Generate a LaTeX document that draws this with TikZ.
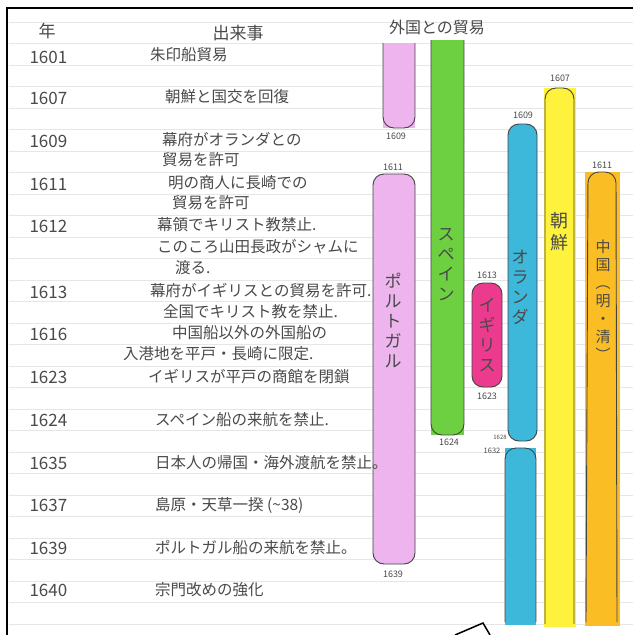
\documentclass[tikz,border=0pt]{standalone}
\usepackage{fontspec}
\setmainfont{Noto Sans CJK JP}
\usetikzlibrary{positioning}

\definecolor{pencil}{HTML}{4A4A4A}
\definecolor{ruleline}{HTML}{E6E6E6}
\definecolor{lilac}{HTML}{EDB4EE}
\definecolor{leaf}{HTML}{6DD040}
\definecolor{rose}{HTML}{EC3B8E}
\definecolor{sky}{HTML}{3DB8DB}
\definecolor{lemon}{HTML}{FFF23C}
\definecolor{amber}{HTML}{FBBD24}

\begin{document}
\begin{tikzpicture}[x=1pt,y=-1pt,
    yr/.style={anchor=west,text=pencil,font=\fontsize{17}{19}\selectfont},
    evt/.style={anchor=west,text=pencil,inner sep=0pt,font=\fontsize{15.5}{17}\selectfont},
    barlbl/.style={text=pencil,align=center,inner sep=0pt,font=\fontsize{17}{20}\selectfont},
    tick/.style={text=pencil,inner sep=0pt,font=\fontsize{9}{10}\selectfont},
    edge/.style={draw=pencil!90!black,line width=0.9pt,rounded corners=11pt}]
\useasboundingbox (0,0) rectangle (633,635);
\fill[white] (0,0) rectangle (633,635);

% ruled lines of the notebook
\foreach \k in {0,...,28}
  \draw[ruleline,line width=0.6pt] (9,{22+21.5*\k}) -- (633,{22+21.5*\k});

% frame
\draw[line width=2.5pt] (7,635) -- (7,8) -- (633,8);

% headings
\node[text=pencil,font=\fontsize{17}{19}\selectfont] (hyear) at (47,31) {年};
\node[text=pencil,font=\fontsize{17}{19}\selectfont] (hevent) at (238,33) {出来事};
\node[text=pencil,font=\fontsize{16}{18}\selectfont] (htrade) at (437,27) {外国との貿易};

% Portugal (until 1609, again 1611-1639)
\fill[lilac] (383,43) rectangle (415,128);
\draw[edge] (383,43) -- (383,128) -- (415,128) -- (415,43);
\node[tick] (p1609) at (396,136) {1609};
\filldraw[fill=lilac,edge] (373,174) rectangle (415,564);
\node[tick] (p1611) at (393,167) {1611};
\node[tick] (p1639) at (393,574) {1639};
\node[barlbl] (portugal) at (393,320) {ポ\\ル\\ト\\ガ\\ル};

% Spain
\fill[leaf] (431,40) rectangle (464,435);
\draw[edge] (431,40) -- (431,435) -- (464,435) -- (464,40);
\node[tick] (s1624) at (449,442) {1624};
\node[barlbl] (spain) at (446,265) {ス\\ペ\\イ\\ン};

% England
\filldraw[fill=rose,edge] (472,283) rectangle (502,387);
\node[tick] (g1613) at (487,275) {1613};
\node[tick] (g1623) at (487,396) {1623};
\node[barlbl] (england) at (487,335) {イ\\ギ\\リ\\ス};

% Netherlands
\filldraw[fill=sky,edge] (508,124) rectangle (537,441);
\fill[sky] (505,448) rectangle (536,625);
\draw[edge] (505,622) -- (505,448) -- (536,448) -- (536,622);
\node[tick] (n1609) at (523,115) {1609};
\node[tick,font=\fontsize{6}{7}\selectfont] (n1628) at (500,437) {1628};
\node[tick,font=\fontsize{7.5}{8}\selectfont] (n1632) at (492,451) {1632};
\node[barlbl] (holland) at (520,287) {オ\\ラ\\ン\\ダ};

% Korea
\fill[lemon] (544,88) rectangle (576,627);
\draw[edge] (545,624) -- (545,88) -- (574,88) -- (574,624);
\node[tick] (k1607) at (560,78) {1607};
\node[barlbl,font=\fontsize{18}{22}\selectfont] (korea) at (559,232) {朝\\鮮};

% China
\fill[amber] (585,172) rectangle (620,626);
\draw[edge] (586,622) -- (588,172) -- (616,172) -- (617,622);
\node[tick] (c1611) at (602,165) {1611};
\node[barlbl,font=\fontsize{15}{18}\selectfont] (china) at (603,300) {中\\国\\︵\\明\\・\\清\\︶};

% years
\node[yr] (y1601) at (26,57) {1601};
\node[yr] (y1607) at (26,98) {1607};
\node[yr] (y1609) at (26,141) {1609};
\node[yr] (y1611) at (26,184) {1611};
\node[yr] (y1612) at (26,226) {1612};
\node[yr] (y1613) at (26,292) {1613};
\node[yr] (y1616) at (26,334) {1616};
\node[yr] (y1623) at (26,377) {1623};
\node[yr] (y1624) at (26,420) {1624};
\node[yr] (y1635) at (26,463) {1635};
\node[yr] (y1637) at (26,505) {1637};
\node[yr] (y1639) at (26,548) {1639};
\node[yr] (y1640) at (26,590) {1640};

% events
\node[evt] (e1601) at (150,55) {朱印船貿易};
\node[evt] (e1607) at (165,97) {朝鮮と国交を回復};
\node[evt] (e1609a) at (162,140) {幕府がオランダとの};
\node[evt] (e1609b) at (162,160) {貿易を許可};
\node[evt] (e1611a) at (168,183) {明の商人に長崎での};
\node[evt] (e1611b) at (172,203) {貿易を許可};
\node[evt] (e1612a) at (157,225) {幕領でキリスト教禁止.};
\node[evt] (e1612b) at (157,247) {このころ山田長政がシャムに};
\node[evt] (e1612c) at (175,268) {渡る.};
\node[evt] (e1613a) at (150,291) {幕府がイギリスとの貿易を許可.};
\node[evt] (e1613b) at (163,312) {全国でキリスト教を禁止.};
\node[evt] (e1616a) at (172,333) {中国船以外の外国船の};
\node[evt] (e1616b) at (123,354) {入港地を平戸・長崎に限定.};
\node[evt] (e1623) at (148,377) {イギリスが平戸の商館を閉鎖};
\node[evt] (e1624) at (155,420) {スペイン船の来航を禁止.};
\node[evt] (e1635) at (155,463) {日本人の帰国・海外渡航を禁止。};
\node[evt] (e1637) at (155,505) {島原・天草一揆 (\textasciitilde 38)};
\node[evt] (e1639) at (155,548) {ポルトガル船の来航を禁止。};
\node[evt] (e1640) at (155,590) {宗門改めの強化};

% corner of a sheet below
\draw[line width=1.5pt] (455,635) -- (483,623) -- (490,635);
\end{tikzpicture}
\end{document}
